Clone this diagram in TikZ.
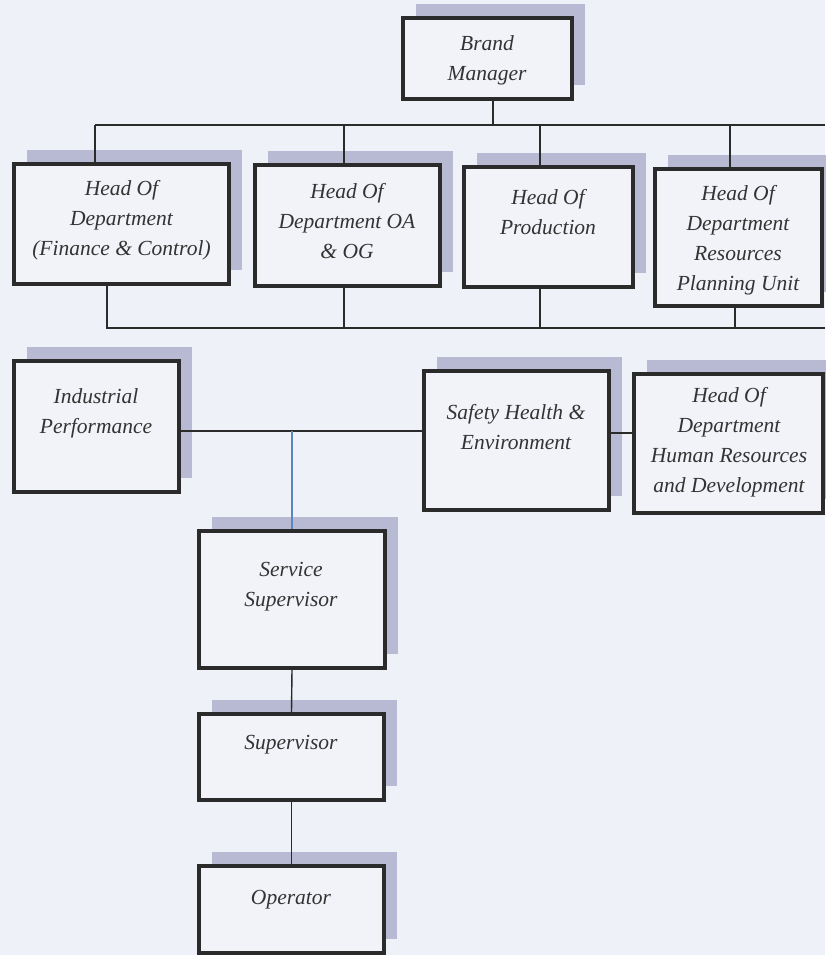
\documentclass[tikz,border=0pt]{standalone}
\usepackage{fontspec}
\newfontfamily\orgfont{Liberation Serif}
\usetikzlibrary{shadows}
\definecolor{bgc}{HTML}{EEF1F7}
\definecolor{boxfill}{HTML}{F1F3F8}
\definecolor{shadowc}{HTML}{B8B9D3}
\definecolor{linec}{HTML}{2B2B2B}
\definecolor{textc}{HTML}{333333}
\definecolor{bluec}{HTML}{5A88BE}
\tikzset{
  orgbox/.style={draw=linec, line width=3.8pt, fill=boxfill, inner sep=0pt,
    general shadow={shadow xshift=13pt, shadow yshift=14pt, fill=shadowc}},
  orgtext/.style={text=textc, align=center, inner sep=0pt,
    font=\orgfont\fontsize{21.5}{30}\selectfont\itshape},
  conn/.style={draw=linec, line width=1.4pt},
  bconn/.style={draw=bluec, line width=1.1pt}
}
\begin{document}
\begin{tikzpicture}[x=1pt,y=-1pt]
\useasboundingbox (0,0) rectangle (825,955);
\fill[bgc] (0,0) rectangle (825,955);
% boxes
\node[orgbox, minimum width=169pt, minimum height=81pt]  (BM) at (487.5,58.5) {};
\node[orgbox, minimum width=215pt, minimum height=120pt] (F)  at (121.5,224) {};
\node[orgbox, minimum width=185pt, minimum height=121pt] (OA) at (347.5,225.5) {};
\node[orgbox, minimum width=169pt, minimum height=120pt] (P)  at (548.5,227) {};
\node[orgbox, minimum width=167pt, minimum height=137pt] (R)  at (738.5,237.5) {};
\node[orgbox, minimum width=165pt, minimum height=131pt] (IP) at (96.5,426.5) {};
\node[orgbox, minimum width=185pt, minimum height=139pt] (S)  at (516.5,440.5) {};
\node[orgbox, minimum width=189pt, minimum height=139pt] (HR) at (728.5,443.5) {};
\node[orgbox, minimum width=186pt, minimum height=137pt] (SS) at (292,599.5) {};
\node[orgbox, minimum width=185pt, minimum height=86pt]  (SU) at (291.5,757) {};
\node[orgbox, minimum width=185pt, minimum height=87pt]  (OP) at (291.5,909.5) {};
% texts
\node[orgtext] (tBM) at (487,60) {Brand\\Manager};
\node[orgtext] (tF)  at (121.5,220) {Head Of\\Department\\(Finance \& Control)};
\node[orgtext] (tOA) at (347,221) {Head Of\\Department OA\\\& OG};
\node[orgtext] (tP)  at (548,212) {Head Of\\Production};
\node[orgtext] (tR)  at (738,240) {Head Of\\Department\\Resources\\Planning Unit};
\node[orgtext] (tIP) at (96,413) {Industrial\\Performance};
\node[orgtext] (tS)  at (516,427) {Safety Health \&\\Environment};
\node[orgtext] (tHR) at (729,442) {Head Of\\Department\\Human Resources\\and Development};
\node[orgtext] (tSS) at (291,587) {Service\\Supervisor};
\node[orgtext] (tSU) at (291,745) {Supervisor};
\node[orgtext] (tOP) at (291,900) {Operator};
% top bus
\coordinate (b1L) at (95,125);
\coordinate (b1R) at (825,125);
\coordinate (d1) at (493,125);
\coordinate (d2) at (344,125);
\coordinate (d3) at (540,125);
\coordinate (d4) at (730,125);
\draw[conn] (d1 |- BM.south) -- (d1);
\draw[conn] (b1L) -- (b1R);
\draw[conn] (b1L) -- (b1L |- F.north);
\draw[conn] (d2) -- (d2 |- OA.north);
\draw[conn] (d3) -- (d3 |- P.north);
\draw[conn] (d4) -- (d4 |- R.north);
% second bus
\coordinate (b2L) at (107,328);
\coordinate (b2R) at (825,328);
\coordinate (e2) at (344,328);
\coordinate (e3) at (540,328);
\coordinate (e4) at (735,328);
\draw[conn] (b2L |- F.south) -- (b2L) -- (b2R);
\draw[conn] (e2 |- OA.south) -- (e2);
\draw[conn] (e3 |- P.south) -- (e3);
\draw[conn] (e4 |- R.south) -- (e4);
% level 3
\coordinate (j) at (292,431);
\coordinate (k) at (620,433);
\draw[conn] (j -| IP.east) -- (j -| S.west);
\draw[conn] (k -| S.east) -- (k -| HR.west);
\draw[bconn] (j) -- (j |- SS.north);
% chain
\draw[conn] (SS.south) -- (SU.north);
\draw[conn] (SU.south) -- (OP.north);
\end{tikzpicture}
\end{document}
